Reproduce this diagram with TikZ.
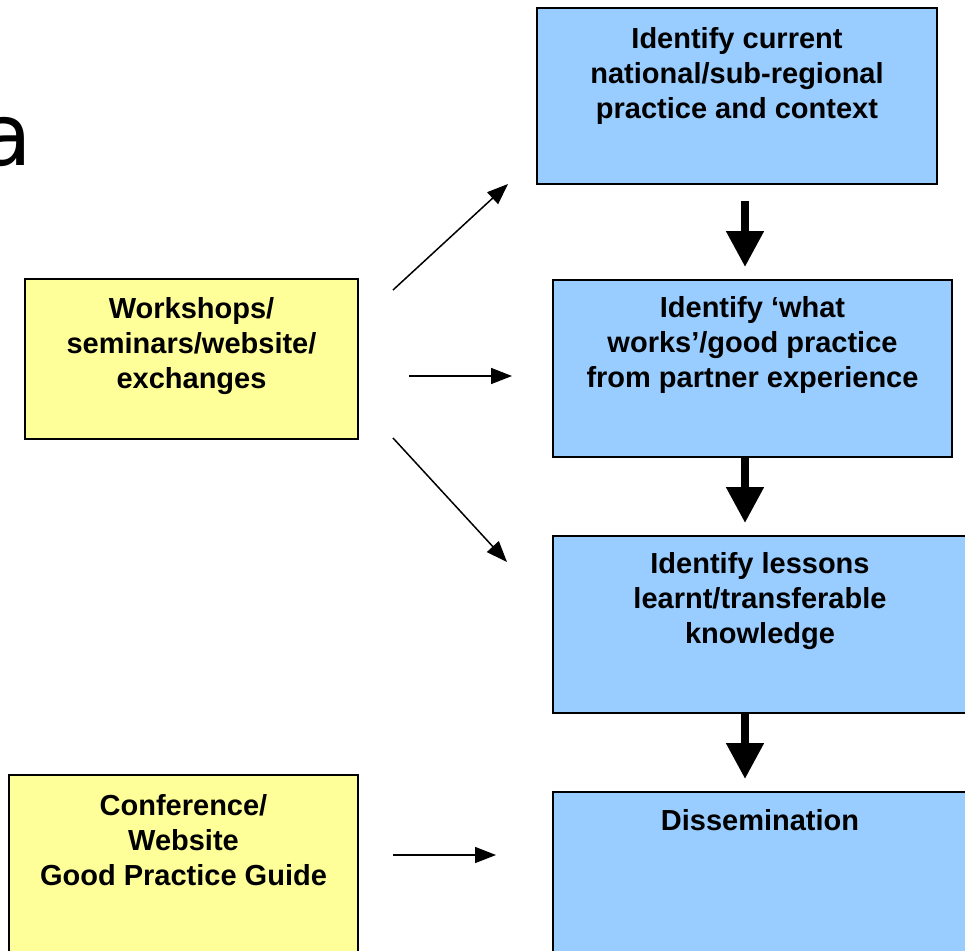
\documentclass[tikz,border=0pt]{standalone}
\usepackage{fontspec}
\setmainfont{Liberation Sans}
\newfontfamily\titlefont{DejaVu Sans}
\usetikzlibrary{positioning,arrows.meta}
\definecolor{boxblue}{HTML}{99CCFF}
\definecolor{boxyellow}{HTML}{FFFF99}
\tikzset{
  stagebox/.style={draw=black,line width=2pt,fill=boxblue,inner sep=0pt},
  inputbox/.style={draw=black,line width=1.5pt,fill=boxyellow,inner sep=0pt},
  boxtext/.style={align=center,inner sep=0pt,font=\fontsize{29}{35}\selectfont\bfseries},
  thinarrow/.style={line width=1.5pt,-{Triangle[length=21pt,width=16pt]}},
  fatarrow/.style={line width=8pt,-{Triangle[length=36pt,width=36pt]}}
}
\begin{document}
\begin{tikzpicture}[x=1pt,y=-1pt]
\useasboundingbox (0,0) rectangle (965,950);
% title letter, cut at the left edge
\node[anchor=base east,inner sep=0pt,font=\titlefont\fontsize{86}{86}\selectfont] (title) at (32,165) {a};
% stages
\node[stagebox,minimum width=400pt,minimum height=176pt] (current) at (737,96) {};
\node[stagebox,minimum width=399pt,minimum height=177pt] (works) at (752.5,368.5) {};
\node[stagebox,minimum width=414pt,minimum height=177pt] (lessons) at (760,624.5) {};
\node[stagebox,minimum width=414pt,minimum height=168pt] (dissem) at (760,876) {};
\node[boxtext,below=20pt of current.north] {Identify current\\national/sub-regional\\practice and context};
\node[boxtext,below=17pt of works.north] {Identify `what\\works'/good practice\\from partner experience};
\node[boxtext,below=17pt of lessons.north] {Identify lessons\\learnt/transferable\\knowledge};
\node[boxtext,below=18pt of dissem.north] {Dissemination};
% inputs
\node[inputbox,minimum width=333pt,minimum height=160pt] (workshops) at (191.5,359) {};
\node[inputbox,minimum width=349pt,minimum height=185pt] (conference) at (183.5,867.5) {};
\node[boxtext,below=19pt of workshops.north] {Workshops/\\seminars/website/\\exchanges};
\node[boxtext,below=20pt of conference.north] {Conference/\\Website\\Good Practice Guide};
% thin arrows
\coordinate (w1) at (393,290);
\coordinate (w2) at (409,376);
\coordinate (w3) at (393,438);
\coordinate (c1) at (393,855);
\coordinate (t1) at (508,184);
\coordinate (t2) at (512,376);
\coordinate (t3) at (507,562);
\coordinate (t4) at (496,855);
\draw[thinarrow] (w1) -- (t1);
\draw[thinarrow] (w2) -- (t2);
\draw[thinarrow] (w3) -- (t3);
\draw[thinarrow] (c1) -- (t4);
% fat arrows
\draw[fatarrow] ([xshift=8pt,yshift=-16pt]current.south) -- ([xshift=-7.5pt,yshift=12pt]works.north);
\draw[fatarrow] ([xshift=-7.5pt]works.south) -- ([xshift=-15pt,yshift=12pt]lessons.north);
\draw[fatarrow] ([xshift=-15pt]lessons.south) -- ([xshift=-15pt,yshift=12pt]dissem.north);
\end{tikzpicture}
\end{document}
